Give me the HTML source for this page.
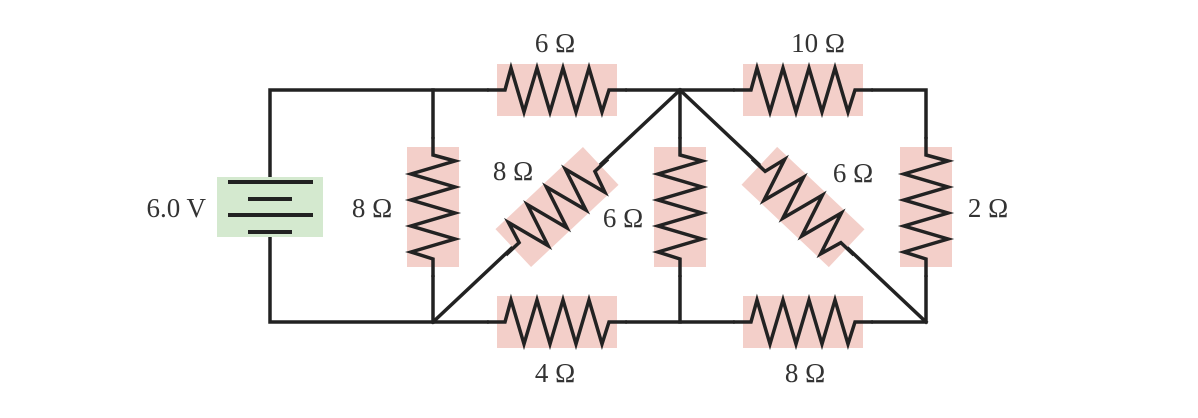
<!DOCTYPE html>
<html><head><meta charset="utf-8"><style>html,body{margin:0;padding:0;background:#fff}svg{display:block}text{font-family:"Liberation Serif",serif;font-size:27px;fill:#333}</style></head><body>
<svg width="1198" height="418" viewBox="0 0 1198 418" xmlns="http://www.w3.org/2000/svg">
<defs>
<g id="r">
<rect x="-60" y="-26" width="120" height="52" fill="#f3cfc9"/>
<path d="M-70,0 L-52,0 L-46,-22 L-33,22 L-20,-22 L-7,22 L6,-22 L19,22 L32,-22 L45,22 L52,0 L70,0" fill="none" stroke="#222" stroke-width="3.5" stroke-linejoin="miter"/>
</g>
</defs>
<g stroke="#222" stroke-width="3.5" fill="none" stroke-linecap="square">
<path d="M270,181 V90 H487 M627,90 H733 M873,90 H926 V137 M926,277 V322 H873 M733,322 H627 M487,322 H270 V232"/>
<path d="M433,90 V137 M433,277 V322"/>
<path d="M680,90 V137 M680,277 V322"/>
<path d="M433,322 L680,90 L926,322"/>
</g>
<rect x="217" y="177" width="106" height="60" fill="#d4e9cf"/>
<g stroke="#222" stroke-width="4">
<line x1="228" y1="182" x2="313" y2="182"/>
<line x1="248" y1="199" x2="292" y2="199"/>
<line x1="228" y1="215" x2="313" y2="215"/>
<line x1="248" y1="232" x2="292" y2="232"/>
</g>
<use href="#r" transform="translate(557,90)"/>
<use href="#r" transform="translate(803,90)"/>
<use href="#r" transform="translate(557,322)"/>
<use href="#r" transform="translate(803,322)"/>
<use href="#r" transform="translate(433,207) rotate(90)"/>
<use href="#r" transform="translate(680,207) rotate(90)"/>
<use href="#r" transform="translate(926,207) rotate(90)"/>
<use href="#r" transform="translate(557,207) rotate(-43.2)"/>
<use href="#r" transform="translate(803,207) rotate(43.3)"/>
<text x="555" y="52" text-anchor="middle">6 Ω</text>
<text x="818" y="52" text-anchor="middle">10 Ω</text>
<text x="206" y="217" text-anchor="end">6.0 V</text>
<text x="372" y="217" text-anchor="middle">8 Ω</text>
<text x="513" y="180" text-anchor="middle">8 Ω</text>
<text x="623" y="227" text-anchor="middle">6 Ω</text>
<text x="853" y="182" text-anchor="middle">6 Ω</text>
<text x="988" y="217" text-anchor="middle">2 Ω</text>
<text x="555" y="382" text-anchor="middle">4 Ω</text>
<text x="805" y="382" text-anchor="middle">8 Ω</text>
</svg>
</body></html>
